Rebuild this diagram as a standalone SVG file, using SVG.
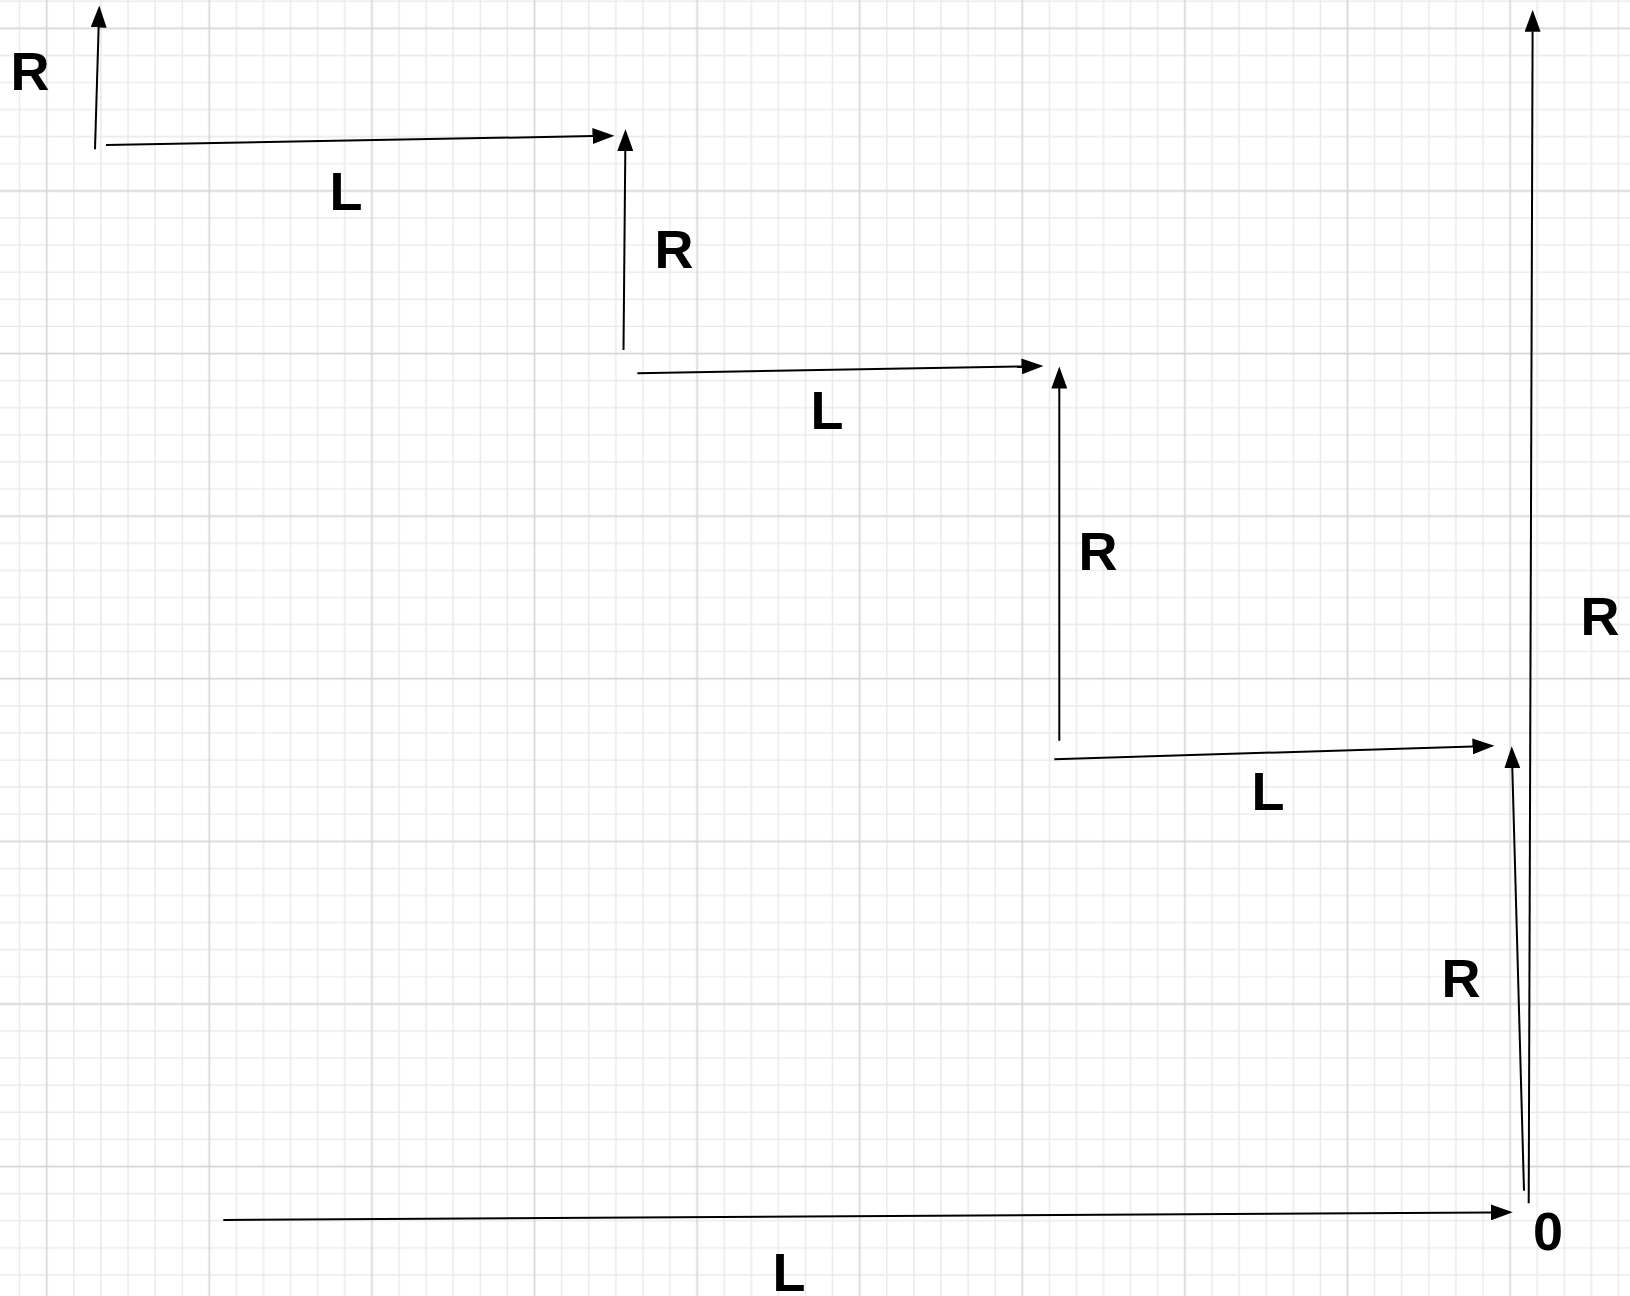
<svg xmlns="http://www.w3.org/2000/svg" width="1630" height="1296" viewBox="0 0 1630 1296">
  <style>
    .minor { stroke: #e9e9e9; stroke-width: 1.4; fill: none; }
    .major { stroke: #d5d5d5; stroke-width: 1.6; fill: none; }
    .edge { stroke: #000; stroke-width: 2; fill: none; marker-end: url(#ah); }
    .lbl { font-family: "Liberation Sans", Arial, Helvetica, sans-serif; font-weight: bold; font-size: 54px; fill: #000; text-anchor: middle; }
  </style>
  <defs>
    <pattern id="grid" patternUnits="userSpaceOnUse" x="33.15" y="14.75" width="162.6" height="162.6">
      <path class="minor" d="M40.65,0V162.6M67.75,0V162.6M94.85,0V162.6M121.95,0V162.6M149.05,0V162.6M0,40.65H162.6M0,67.75H162.6M0,94.85H162.6M0,121.95H162.6M0,149.05H162.6"/>
      <path class="major" d="M13.55,0V162.6M0,13.55H162.6"/>
    </pattern>
    <marker id="ah" viewBox="0 0 22 16" refX="0.5" refY="8" markerWidth="22" markerHeight="16" markerUnits="userSpaceOnUse" orient="auto">
      <path d="M0,0 L22,8 L0,16 Z" fill="#000"/>
    </marker>
  </defs>
  <rect width="1630" height="1296" fill="#fff"/>
  <rect width="1630" height="1296" fill="url(#grid)"/>

  <g id="connectors">
    <path class="edge" d="M95,149.3 L98.64,27"/>
    <path class="edge" d="M106,145 L593,136.1"/>
    <path class="edge" d="M623.5,350 L625.3,150.5"/>
    <path class="edge" d="M637.3,373.3 L1022,366.4"/>
    <path class="edge" d="M1059.3,740.7 L1059.3,388"/>
    <path class="edge" d="M1054.3,759.3 L1473,746.4"/>
    <path class="edge" d="M1524,1190.7 L1512.3,767.7"/>
    <path class="edge" d="M1528.7,1203.3 L1532.6,31.3"/>
    <path class="edge" d="M223.3,1220 L1491.3,1212.4"/>
  </g>

  <g id="label-r1"><text class="lbl" x="30" y="90">R</text></g>
  <g id="label-l1"><text class="lbl" x="346" y="210">L</text></g>
  <g id="label-r2"><text class="lbl" x="674" y="268">R</text></g>
  <g id="label-l2"><text class="lbl" x="827" y="429">L</text></g>
  <g id="label-r3"><text class="lbl" x="1098" y="570">R</text></g>
  <g id="label-r5"><text class="lbl" x="1600" y="635">R</text></g>
  <g id="label-l3"><text class="lbl" x="1268" y="810">L</text></g>
  <g id="label-r4"><text class="lbl" x="1461" y="997">R</text></g>
  <g id="label-0"><text class="lbl" x="1548" y="1250">0</text></g>
  <g id="label-l4"><text class="lbl" x="789" y="1290.5">L</text></g>
</svg>
